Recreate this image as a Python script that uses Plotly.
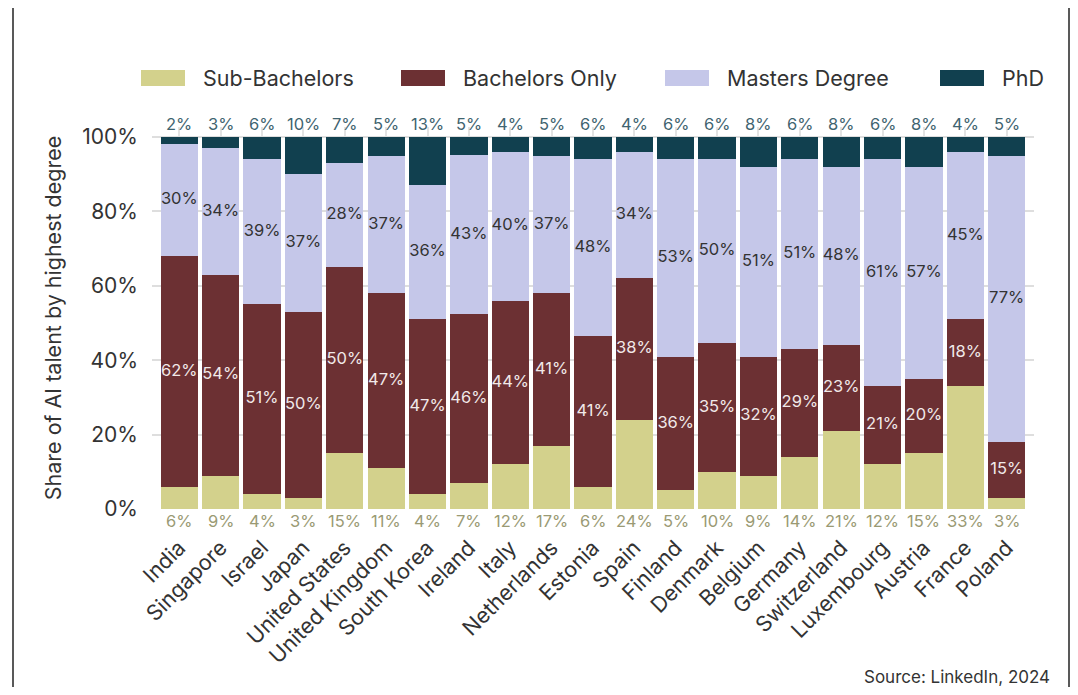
import plotly.graph_objects as go

countries = ["India", "Singapore", "Israel", "Japan", "United States", "United Kingdom",
             "South Korea", "Ireland", "Italy", "Netherlands", "Estonia", "Spain", "Finland",
             "Denmark", "Belgium", "Germany", "Switzerland", "Luxembourg", "Austria", "France", "Poland"]
sub_bachelors = [6, 9, 4, 3, 15, 11, 4, 7, 12, 17, 6, 24, 5, 10, 9, 14, 21, 12, 15, 33, 3]
bachelors_only = [62, 54, 51, 50, 50, 47, 47, 46, 44, 41, 41, 38, 36, 35, 32, 29, 23, 21, 20, 18, 15]
masters_degree = [30, 34, 39, 37, 28, 37, 36, 43, 40, 37, 48, 34, 53, 50, 51, 51, 48, 61, 57, 45, 77]
phd = [2, 3, 6, 10, 7, 5, 13, 5, 4, 5, 6, 4, 6, 6, 8, 6, 8, 6, 8, 4, 5]

series_names = ["Sub-Bachelors", "Bachelors Only", "Masters Degree", "PhD"]
series_colors = ["#d3d18c", "#6c3033", "#c5c7e9", "#11404f"]
series_values = [sub_bachelors, bachelors_only, masters_degree, phd]

# page has an 8px body margin; figure sized to fit the window
OFF = 8
W, H = 1062, 679
ML, MT = 144, 119
MR = W - (1034 - OFF)
MB = H - (509 - OFF)
PW, PH = W - ML - MR, H - MT - MB

def px_x(xp):
    return (xp - OFF - ML) / PW

def px_y(yp):
    return (H - MB - (yp - OFF)) / PH

totals = [sum(v) for v in zip(*series_values)]
fracs = [[v / t for v, t in zip(vals, totals)] for vals in series_values]

FONT = "Inter, Roboto, sans-serif"
fig = go.Figure()

for name, color, fr in zip(series_names, series_colors, fracs):
    fig.add_trace(go.Bar(x=countries, y=fr, name=name, marker=dict(color=color, line=dict(width=0)),
                         width=0.9, hoverinfo="skip", showlegend=False))

cum = [[0.0] * len(countries)]
for fr in fracs:
    cum.append([c + f for c, f in zip(cum[-1], fr)])

label_colors = {1: "#f1e9e9", 2: "#333333"}
for idx in (1, 2):
    mids = [(a + b) / 2 for a, b in zip(cum[idx], cum[idx + 1])]
    fig.add_trace(go.Scatter(x=countries, y=mids, mode="text",
                             text=[f"{v}%" for v in series_values[idx]],
                             textfont=dict(family=FONT, size=16.5, color=label_colors[idx]),
                             hoverinfo="skip", showlegend=False, cliponaxis=False))

shapes = []
annotations = []
# PhD labels above bars, Sub-Bachelors labels below bars
for c, p, s in zip(countries, phd, sub_bachelors):
    annotations.append(dict(x=c, y=1.0, xref="x", yref="y", text=f"{p}%", showarrow=False,
                            yanchor="middle", yshift=13,
                            font=dict(family=FONT, size=16.5, color="#3f6470")))
    annotations.append(dict(x=c, y=0.0, xref="x", yref="y", text=f"{s}%", showarrow=False,
                            yanchor="middle", yshift=-12,
                            font=dict(family=FONT, size=16.5, color="#9a9a74")))

legend_sw = [141, 401, 665, 940]
for name, color, x0 in zip(series_names, series_colors, legend_sw):
    shapes.append(dict(type="rect", xref="paper", yref="paper",
                       x0=px_x(x0), x1=px_x(x0 + 44), y0=px_y(86), y1=px_y(70),
                       fillcolor=color, line=dict(width=0)))
    annotations.append(dict(xref="paper", yref="paper", x=px_x(x0 + 60), y=px_y(78),
                            text=name, showarrow=False, xanchor="left", yanchor="middle",
                            font=dict(family=FONT, size=21.5, color="#333333")))
for xl in (13, 1069):
    shapes.append(dict(type="line", xref="paper", yref="paper", x0=px_x(xl), x1=px_x(xl),
                       y0=px_y(7), y1=px_y(OFF + H), line=dict(color="#222222", width=1.5)))

annotations.append(dict(xref="paper", yref="paper", x=px_x(1052), y=px_y(677),
                        text="Source: LinkedIn, 2024", showarrow=False, xanchor="right",
                        yanchor="middle", font=dict(family=FONT, size=17, color="#333333")))

fig.update_layout(
    width=W, height=H, barmode="stack", bargap=0.1,
    margin=dict(l=ML, r=MR, t=MT, b=MB, autoexpand=False),
    paper_bgcolor="white", plot_bgcolor="white",
    font=dict(family=FONT, color="#333333"),
    shapes=shapes, annotations=annotations, showlegend=False,
    xaxis=dict(type="category", range=[-0.66, len(countries) - 0.34], tickangle=-45,
               showgrid=True, gridcolor="#e3e3e3", gridwidth=1.5, ticks="",
               tickfont=dict(family=FONT, size=21.5, color="#333333"), ticklabelstandoff=21,
               showline=False, zeroline=False, automargin=False),
    yaxis=dict(range=[0, 1.027], tickvals=[0, 0.2, 0.4, 0.6, 0.8, 1.0],
               ticktext=["0%", "20%", "40%", "60%", "80%", "100%"],
               showgrid=True, gridcolor="#dedede", gridwidth=2,
               zeroline=True, zerolinecolor="white", zerolinewidth=3, ticks="",
               tickfont=dict(family=FONT, size=21, color="#333333"), ticklabelstandoff=13,
               title=dict(text="Share of AI talent by highest degree", standoff=14,
                          font=dict(family=FONT, size=21.5, color="#333333")),
               automargin=False),
)

fig.write_html("out.html")
